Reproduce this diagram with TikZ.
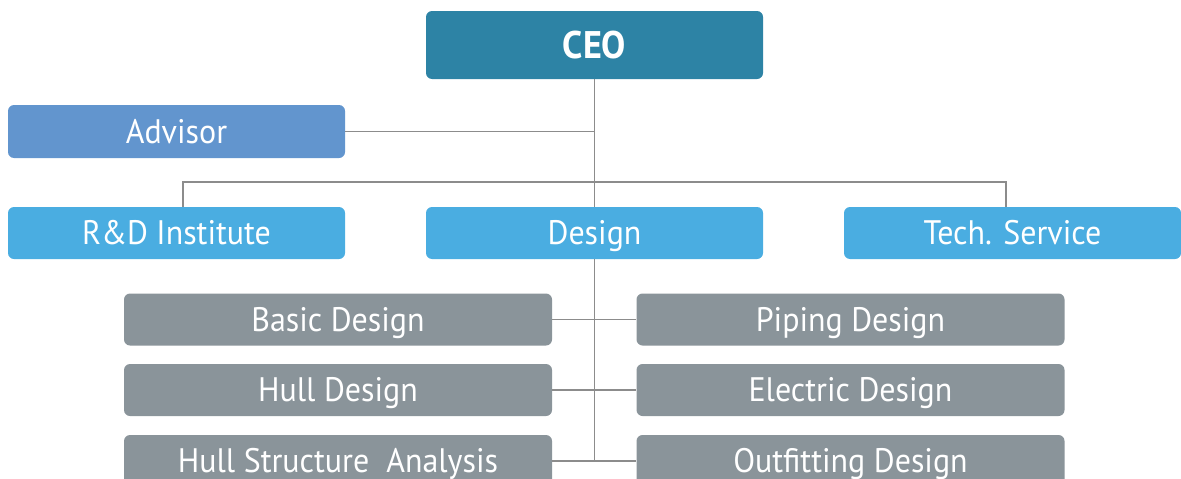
\documentclass[tikz,border=0pt]{standalone}
\usepackage{fontspec}
\setmainfont{PT Sans}[FakeStretch=0.94]
\definecolor{ceoC}{HTML}{2D83A5}
\definecolor{advC}{HTML}{6295CE}
\definecolor{depC}{HTML}{4AADE1}
\definecolor{grayC}{HTML}{8A949A}
\definecolor{lineC}{HTML}{8C8C8C}
\begin{document}
\begin{tikzpicture}[x=1pt,y=-1pt,
  box/.style={rectangle,rounded corners=6pt,inner sep=0pt,text=white,
    font=\fontsize{34}{40}\selectfont,text height=23pt,text depth=0pt},
  topbox/.style={box,fill=ceoC,minimum width=337pt,minimum height=68pt,
    font=\fontsize{38.5}{44}\selectfont\bfseries,text height=26pt},
  advbox/.style={box,fill=advC,minimum width=337pt,minimum height=53pt},
  depbox/.style={box,fill=depC,minimum width=337pt,minimum height=52pt},
  subbox/.style={box,fill=grayC,minimum width=428pt,minimum height=52pt},
  conn/.style={draw=lineC,line width=1.5pt}]
\useasboundingbox (0,0) rectangle (1181,479);
\node[topbox] (ceo) at (594.5,45) {CEO};
\node[advbox] (adv) at (176.5,131.5) {Advisor};
\node[depbox] (rd) at (176.5,233) {R\&D Institute};
\node[depbox] (des) at (594.5,233) {Design};
\node[depbox] (tech) at (1012.5,233) {Tech. Service};
\node[subbox] (basic) at (338,319.5) {Basic Design};
\node[subbox] (hull) at (338,390) {Hull Design};
\node[subbox] (hsa) at (338,461) {Hull Structure~ Analysis};
\node[subbox] (pipe) at (850.5,319.5) {Piping Design};
\node[subbox] (elec) at (850.5,390) {Electric Design};
\node[subbox] (outf) at (850.5,461) {Outfitting Design};
\coordinate (bus) at (594.5,182);
\coordinate (trunkend) at (594.5,461);
\draw[conn] (ceo.south) -- (des.north);
\draw[conn] (adv.east) -- (adv.east -| ceo.south);
\draw[conn] ([xshift=6.5pt]rd.north) |- (bus) -| ([xshift=-6.5pt]tech.north);
\draw[conn] (des.south) -- (trunkend);
\draw[conn] (basic.east) -- (pipe.west);
\draw[conn] (hull.east) -- (elec.west);
\draw[conn] (hsa.east) -- (outf.west);
\end{tikzpicture}
\end{document}
